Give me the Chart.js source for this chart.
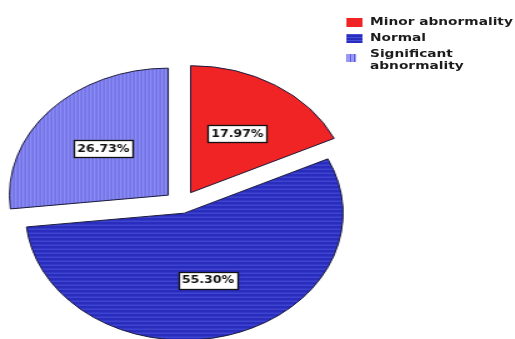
<!DOCTYPE html>
<html>
<head>
<meta charset="utf-8">
<script src="https://cdn.jsdelivr.net/npm/chart.js@4/dist/chart.umd.min.js"></script>
<style>
  html, body { margin: 0; padding: 0; background: #fff; }
  /* the whole chart is drawn narrow and stretched sideways */
  #wrap {
    position: relative; width: 412px; height: 339px;
    transform: scaleX(1.25); transform-origin: 0 0; overflow: visible;
  }
  #pie { position: absolute; left: 0; top: 0; }
  #legend {
    position: absolute; left: 277px; top: 16px; width: 135px;
    font: bold 11px "DejaVu Sans", sans-serif; color: #1c1c1c;
  }
  .row { position: relative; padding-left: 19px; line-height: 12px; margin-bottom: 4px; }
  .sw { position: absolute; left: 0; top: 2px; width: 13px; height: 9px; }
</style>
</head>
<body>
<div id="wrap">
  <canvas id="pie" width="412" height="339"></canvas>
  <div id="legend"></div>
</div>
<script>
  // الفئات والنسب
  const categories = ['Minor abnormality', 'Normal', 'Significant abnormality'];
  const percents = [17.97, 55.30, 26.73];

  // نقوش الشرائح
  function stripes(base, line, vertical, step) {
    const c = document.createElement('canvas');
    c.width = vertical ? step : 1;
    c.height = vertical ? 1 : step;
    const g = c.getContext('2d');
    g.fillStyle = base;
    g.fillRect(0, 0, c.width, c.height);
    g.fillStyle = line;
    g.fillRect(0, 0, 1, 1);
    return g;
  }
  const ctx = document.getElementById('pie').getContext('2d');
  const blueG = stripes('#2a2cbe', '#4650d6', false, 4);
  const lavG = stripes('#8c8cf6', '#6464dc', true, 3);
  const fills = [
    '#f02424',
    ctx.createPattern(blueG.canvas, 'repeat'),
    ctx.createPattern(lavG.canvas, 'repeat')
  ];
  const swatchCss = [
    '#f02424',
    'repeating-linear-gradient(to bottom, #4650d6 0 1px, #2a2cbe 1px 3px)',
    'repeating-linear-gradient(to right, #5a5ad8 0 1px, #9898f8 1px 3px)'
  ];

  // إبعاد الشرائح عن المركز (بدل offset الخاص بالمكتبة)
  const explode = {
    id: 'explode',
    beforeDatasetDraw(chart, args, opts) {
      const c = chart.ctx;
      args.meta.data.forEach((arc, i) => {
        const mid = (arc.startAngle + arc.endAngle) / 2;
        const d = opts.dist[i] || 0;
        c.save();
        c.translate(Math.cos(mid) * d, Math.sin(mid) * d);
        arc.draw(c, chart.chartArea);
        c.restore();
      });
      return false;
    }
  };

  // وسم النسبة داخل كل شريحة
  const valueBoxes = {
    id: 'valueBoxes',
    afterDatasetsDraw(chart) {
      const c = chart.ctx;
      const dist = chart.options.plugins.explode.dist;
      const meta = chart.getDatasetMeta(0);
      c.save();
      c.font = 'bold 10px "DejaVu Sans", sans-serif';
      c.textAlign = 'center';
      c.textBaseline = 'middle';
      meta.data.forEach((arc, i) => {
        const mid = (arc.startAngle + arc.endAngle) / 2;
        const d = dist[i] + arc.outerRadius * 0.55;
        const x = arc.x + Math.cos(mid) * d;
        const y = arc.y + Math.sin(mid) * d;
        const txt = percents[i].toFixed(2) + '%';
        const w = Math.round(c.measureText(txt).width + 5);
        const h = 17;
        const bx = Math.round(x - w / 2) + 0.5;
        const by = Math.round(y - h / 2) + 0.5;
        c.fillStyle = '#fff';
        c.fillRect(bx, by, w, h);
        c.strokeStyle = '#111';
        c.lineWidth = 1.3;
        c.strokeRect(bx, by, w, h);
        c.fillStyle = '#111';
        c.fillText(txt, x, y + 0.5);
      });
      c.restore();
    }
  };

  new Chart(ctx, {
    type: 'pie',
    data: {
      labels: categories,
      datasets: [{
        data: percents,
        backgroundColor: fills,
        borderColor: '#1a1a3a',
        borderWidth: 1
      }]
    },
    options: {
      responsive: false,
      animation: false,
      radius: 127,
      layout: { padding: { left: 0, right: 122, top: 70, bottom: 0 } },
      plugins: {
        legend: { display: false },
        tooltip: { enabled: false },
        explode: { dist: [14, 9, 14] }
      }
    },
    plugins: [explode, valueBoxes]
  });

  // مفتاح الألوان
  const legend = document.getElementById('legend');
  categories.forEach((name, i) => {
    const row = document.createElement('div');
    row.className = 'row';
    const sw = document.createElement('span');
    sw.className = 'sw';
    sw.style.background = swatchCss[i];
    if (i === 2) { sw.style.width = '8px'; sw.style.top = '6px'; sw.style.height = '8px'; }
    row.appendChild(sw);
    row.appendChild(document.createTextNode(name));
    legend.appendChild(row);
  });
</script>
</body>
</html>
